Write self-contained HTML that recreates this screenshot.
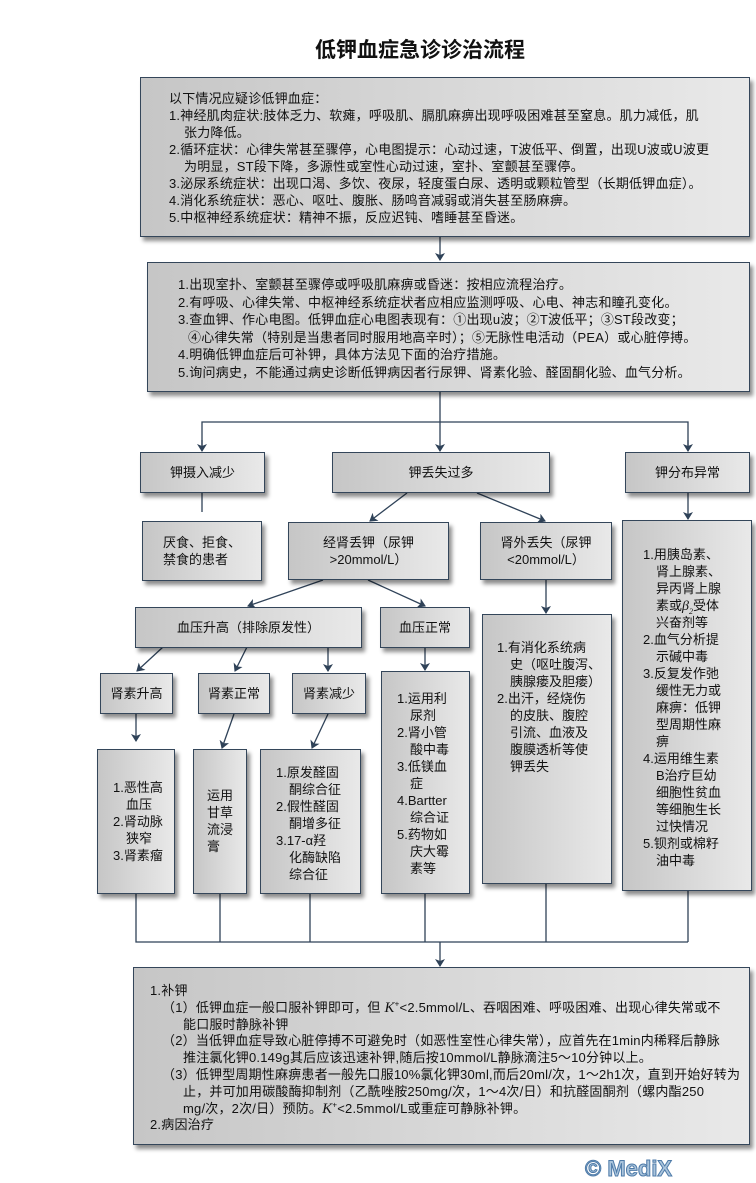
<!DOCTYPE html>
<html><head><meta charset="utf-8">
<style>
*{margin:0;padding:0;box-sizing:border-box}
body{width:756px;height:1183px;background:#fff;position:relative;overflow:hidden;font-family:"Liberation Sans","Noto Sans CJK SC","WenQuanYi Zen Hei",sans-serif;color:#111}
.b{position:absolute;border:1.5px solid #34465a;background:linear-gradient(90deg,#c6c6c6,#e9e9e9);box-shadow:3px 4px 4px rgba(0,0,0,.45);font-size:13px;line-height:17px;white-space:nowrap}
.c{display:flex;align-items:center;justify-content:center;text-align:center}
.t{position:absolute;white-space:nowrap}
.in{padding-left:13px}
svg{position:absolute;left:0;top:0}
i.k{font-family:'Liberation Serif',serif;font-size:15px;line-height:0}
sup,sub{font-size:8px;line-height:0}
</style></head><body>
<div class="t" style="left:315px;top:34px;font-size:21px;font-weight:bold;font-family:'Noto Sans CJK SC',sans-serif">低钾血症急诊诊治流程</div>

<svg width="756" height="1183">
<defs><marker id="a" markerWidth="8" markerHeight="10" refX="7" refY="5" orient="auto" markerUnits="userSpaceOnUse"><path d="M0,0 L8,5 L0,10 L2,5z" fill="#2f4258"/></marker></defs>
<g stroke="#2f4258" stroke-width="1.3" fill="none">
<line x1="440" y1="237" x2="440" y2="260" marker-end="url(#a)"/>
<line x1="440" y1="392" x2="440" y2="422"/>
<polyline points="202,450 202,422 688,422 688,450" />
<line x1="202" y1="440" x2="202" y2="451" marker-end="url(#a)"/>
<line x1="440" y1="422" x2="440" y2="451" marker-end="url(#a)"/>
<line x1="688" y1="440" x2="688" y2="451" marker-end="url(#a)"/>
<line x1="202" y1="493" x2="202" y2="512"/>
<line x1="407" y1="493" x2="370" y2="521" marker-end="url(#a)"/>
<line x1="477" y1="493" x2="545" y2="521" marker-end="url(#a)"/>
<line x1="688" y1="493" x2="688" y2="519" marker-end="url(#a)"/>
<line x1="323" y1="580" x2="248" y2="606" marker-end="url(#a)"/>
<line x1="368" y1="580" x2="425" y2="606" marker-end="url(#a)"/>
<line x1="546" y1="580" x2="546" y2="613" marker-end="url(#a)"/>
<line x1="163" y1="647" x2="137" y2="671" marker-end="url(#a)"/>
<line x1="247" y1="647" x2="235" y2="671" marker-end="url(#a)"/>
<line x1="328" y1="647" x2="328" y2="671" marker-end="url(#a)"/>
<line x1="425" y1="647" x2="425" y2="670" marker-end="url(#a)"/>
<line x1="136" y1="714" x2="136" y2="741" marker-end="url(#a)"/>
<line x1="234" y1="714" x2="222" y2="748" marker-end="url(#a)"/>
<line x1="328" y1="714" x2="312" y2="748" marker-end="url(#a)"/>
<polyline points="136,894 136,942 688,942"/>
<line x1="220" y1="894" x2="220" y2="942"/>
<line x1="310" y1="894" x2="310" y2="942"/>
<line x1="425" y1="894" x2="425" y2="942"/>
<line x1="546" y1="883" x2="546" y2="942"/>
<line x1="688" y1="890" x2="688" y2="942"/>
<line x1="440" y1="942" x2="440" y2="966" marker-end="url(#a)"/>
</g></svg>

<div class="b" style="left:140px;top:77px;width:610px;height:160px;padding:12px 0 0 28px;letter-spacing:0.2px">
<div>以下情况应疑诊低钾血症：</div>
<div>1.神经肌肉症状:肢体乏力、软瘫，呼吸肌、膈肌麻痹出现呼吸困难甚至窒息。肌力减低，肌</div>
<div style="padding-left:15px">张力降低。</div>
<div>2.循环症状：心律失常甚至骤停，心电图提示：心动过速，T波低平、倒置，出现U波或U波更</div>
<div style="padding-left:15px">为明显，ST段下降，多源性或室性心动过速，室扑、室颤甚至骤停。</div>
<div>3.泌尿系统症状：出现口渴、多饮、夜尿，轻度蛋白尿、透明或颗粒管型（长期低钾血症）。</div>
<div>4.消化系统症状：恶心、呕吐、腹胀、肠鸣音减弱或消失甚至肠麻痹。</div>
<div>5.中枢神经系统症状：精神不振，反应迟钝、嗜睡甚至昏迷。</div>
</div>

<div class="b" style="left:147px;top:262px;width:603px;height:130px;padding:13px 0 0 30px;line-height:17.6px;letter-spacing:0.2px">
<div>1.出现室扑、室颤甚至骤停或呼吸肌麻痹或昏迷：按相应流程治疗。</div>
<div>2.有呼吸、心律失常、中枢神经系统症状者应相应监测呼吸、心电、神志和瞳孔变化。</div>
<div>3.查血钾、作心电图。低钾血症心电图表现有：①出现u波；②T波低平；③ST段改变；</div>
<div style="padding-left:10px">④心律失常（特别是当患者同时服用地高辛时）；⑤无脉性电活动（PEA）或心脏停搏。</div>
<div>4.明确低钾血症后可补钾，具体方法见下面的治疗措施。</div>
<div>5.询问病史，不能通过病史诊断低钾病因者行尿钾、肾素化验、醛固酮化验、血气分析。</div>
</div>

<div class="b c" style="left:140px;top:452px;width:125px;height:41px">钾摄入减少</div>
<div class="b c" style="left:332px;top:452px;width:218px;height:41px">钾丢失过多</div>
<div class="b c" style="left:625px;top:452px;width:125px;height:41px">钾分布异常</div>

<div class="b" style="left:142px;top:521px;width:120px;height:60px;padding:12px 0 0 20px">厌食、拒食、<br>禁食的患者</div>
<div class="b c" style="left:288px;top:522px;width:161px;height:58px">经肾丢钾（尿钾<br>&gt;20mmol/L）</div>
<div class="b c" style="left:480px;top:522px;width:132px;height:58px">肾外丢失（尿钾<br>&lt;20mmol/L）</div>

<div class="b" style="left:622px;top:520px;width:130px;height:371px;padding:25px 0 0 20px">
<div>1.用胰岛素、</div><div class="in">肾上腺素、</div><div class="in">异丙肾上腺</div><div class="in" style="height:17px">素或<i class="k" style="font-size:14px">β<sub>2</sub></i>受体</div><div class="in">兴奋剂等</div>
<div>2.血气分析提</div><div class="in">示碱中毒</div>
<div>3.反复发作弛</div><div class="in">缓性无力或</div><div class="in">麻痹：低钾</div><div class="in">型周期性麻</div><div class="in">痹</div>
<div>4.运用维生素</div><div class="in">B治疗巨幼</div><div class="in">细胞性贫血</div><div class="in">等细胞生长</div><div class="in">过快情况</div>
<div>5.钡剂或棉籽</div><div class="in">油中毒</div>
</div>

<div class="b c" style="left:135px;top:607px;width:227px;height:41px">血压升高（排除原发性）</div>
<div class="b c" style="left:380px;top:607px;width:90px;height:41px">血压正常</div>

<div class="b" style="left:482px;top:614px;width:130px;height:270px;padding:24px 0 0 14px">
<div>1.有消化系统病</div><div class="in">史（呕吐腹泻、</div><div class="in">胰腺瘘及胆瘘）</div>
<div>2.出汗，经烧伤</div><div class="in">的皮肤、腹腔</div><div class="in">引流、血液及</div><div class="in">腹膜透析等使</div><div class="in">钾丢失</div>
</div>

<div class="b c" style="left:100px;top:673px;width:73px;height:41px">肾素升高</div>
<div class="b c" style="left:198px;top:673px;width:72px;height:41px">肾素正常</div>
<div class="b c" style="left:292px;top:673px;width:74px;height:41px">肾素减少</div>

<div class="b" style="left:381px;top:671px;width:89px;height:223px;padding:18px 0 0 15px">
<div>1.运用利</div><div class="in">尿剂</div>
<div>2.肾小管</div><div class="in">酸中毒</div>
<div>3.低镁血</div><div class="in">症</div>
<div>4.Bartter</div><div class="in">综合证</div>
<div>5.药物如</div><div class="in">庆大霉</div><div class="in">素等</div>
</div>

<div class="b" style="left:97px;top:749px;width:78px;height:145px;padding:29px 0 0 15px">
<div>1.恶性高</div><div class="in">血压</div>
<div>2.肾动脉</div><div class="in">狭窄</div>
<div>3.肾素瘤</div>
</div>
<div class="b" style="left:193px;top:749px;width:54px;height:145px;padding:37px 0 0 13px">运用<br>甘草<br>流浸<br>膏</div>
<div class="b" style="left:260px;top:749px;width:101px;height:145px;padding:14px 0 0 15px">
<div>1.原发醛固</div><div class="in">酮综合征</div>
<div>2.假性醛固</div><div class="in">酮增多征</div>
<div>3.17-α羟</div><div class="in">化酶缺陷</div><div class="in">综合征</div>
</div>

<div class="b" style="left:133px;top:967px;width:617px;height:178px;padding:15px 0 0 16px;line-height:16.8px;letter-spacing:0.2px">
<div>1.补钾</div>
<div style="padding-left:12px;height:16.8px">（1）低钾血症一般口服补钾即可，但 <i class="k">K</i><sup>+</sup>&lt;2.5mmol/L、吞咽困难、呼吸困难、出现心律失常或不</div>
<div style="padding-left:33px">能口服时静脉补钾</div>
<div style="padding-left:12px">（2）当低钾血症导致心脏停搏不可避免时（如恶性室性心律失常），应首先在1min内稀释后静脉</div>
<div style="padding-left:33px">推注氯化钾0.149g其后应该迅速补钾,随后按10mmol/L静脉滴注5～10分钟以上。</div>
<div style="padding-left:12px">（3）低钾型周期性麻痹患者一般先口服10%氯化钾30ml,而后20ml/次，1～2h1次，直到开始好转为</div>
<div style="padding-left:33px">止，并可加用碳酸酶抑制剂（乙酰唑胺250mg/次，1～4次/日）和抗醛固酮剂（螺内酯250</div>
<div style="padding-left:33px;height:16.8px">mg/次，2次/日）预防。<i class="k">K</i><sup>+</sup>&lt;2.5mmol/L或重症可静脉补钾。</div>
<div>2.病因治疗</div>
</div>

<div class="t" style="left:585px;top:1156px;font-size:22px;font-weight:bold;color:#aac4dc;-webkit-text-stroke:1px #4d7aa8;font-family:'Liberation Sans',sans-serif">© MediX</div>
</body></html>
